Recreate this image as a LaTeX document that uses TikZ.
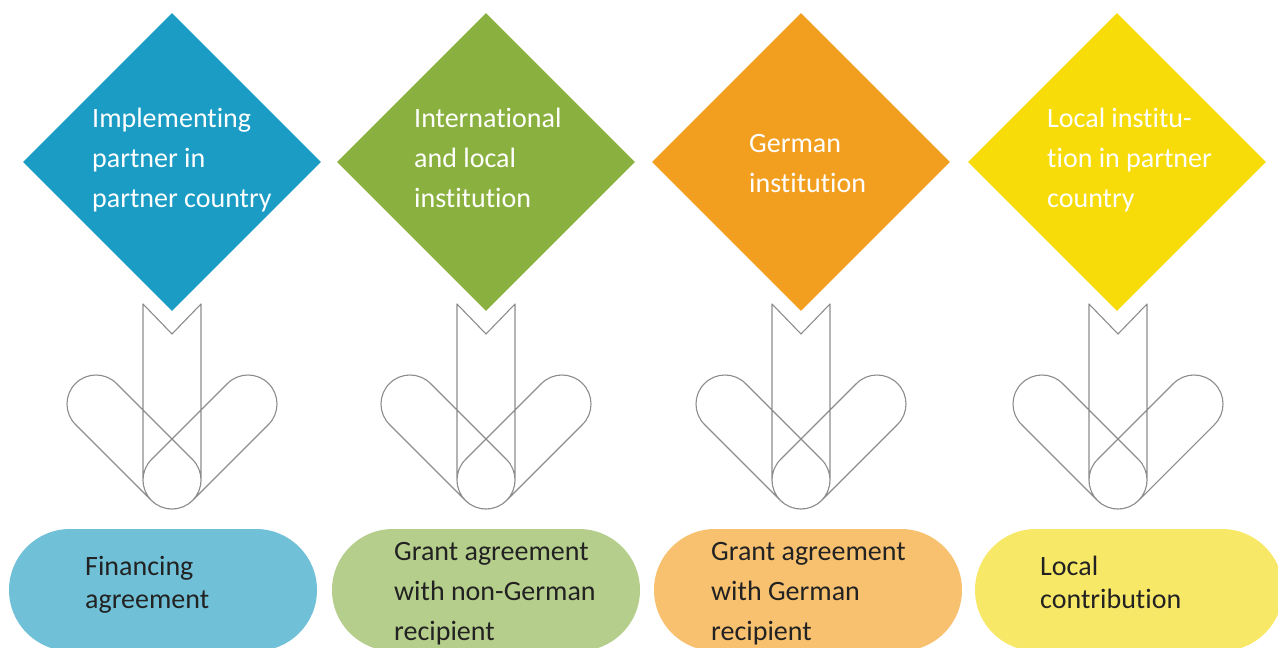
\documentclass[tikz,border=0pt]{standalone}
\usepackage{fontspec}
\usepackage{tikz}
\usepackage{xcolor}
\usetikzlibrary{shapes, positioning}
\setmainfont{Carlito}[Ligatures={NoCommon, NoRequired, NoContextual}]

\definecolor{dblue}{HTML}{1B9CC4}
\definecolor{dgreen}{HTML}{8AB140}
\definecolor{dorange}{HTML}{F29F20}
\definecolor{dyellow}{HTML}{F7DC0A}
\definecolor{pblue}{HTML}{70C0D8}
\definecolor{pgreen}{HTML}{B5CE8B}
\definecolor{porange}{HTML}{F7C170}
\definecolor{pyellow}{HTML}{F8E868}
\definecolor{ink}{HTML}{222222}
\definecolor{glyph}{HTML}{8C8C8C}

\tikzset{
    partner/.style={diamond, minimum size=298pt, inner sep=0pt, fill=#1},
    partnertext/.style={anchor=base west, align=left, inner sep=0pt, text=white,
        font=\fontsize{28}{40}\selectfont},
    contract/.style={rectangle, rounded corners=61pt, minimum width=308pt,
        minimum height=122pt, inner sep=0pt, fill=#1},
    contracttext/.style={anchor=base west, align=left, inner sep=0pt, text=ink,
        font=\fontsize{28}{#1}\selectfont},
    mergearrow/.pic={
        \draw[glyph, line width=1.1pt, line join=round]
            (-29,0) -- (-29,176) -- (0,146) -- (29,176) -- (29,0)
                arc[start angle=0, end angle=-180, radius=29] -- cycle
            (45:29) -- ++(-76,76) arc[start angle=45, end angle=225, radius=29]
                -- ++(76,-76) arc[start angle=225, end angle=405, radius=29] -- cycle
            (135:29) -- ++(76,76) arc[start angle=135, end angle=-45, radius=29]
                -- ++(-76,-76) arc[start angle=-45, end angle=-225, radius=29] -- cycle;
    }
}

\begin{document}
\begin{tikzpicture}[x=1pt, y=1pt]
        \useasboundingbox (0,0) rectangle (1278,-648);
        \clip (0,0) rectangle (1278,-648);

        \node[partner=dblue] (impl) at (172,-162) {};
        \node[partner=dgreen] (intl) at (486,-162) {};
        \node[partner=dorange] (germ) at (801,-162) {};
        \node[partner=dyellow] (local) at (1117,-162) {};

        % anchors sit on the last baseline
        \node[partnertext] (impltext) at (92,-207) {Implementing\\partner in\\partner country};
        \node[partnertext] (intltext) at (414,-207) {International\\and local\\institution};
        \node[partnertext] (germtext) at (749,-192) {German\\institution};
        \node[partnertext] (localtext) at (1047,-207) {Local institu-\\tion in partner\\country};

        \pic at (172,-480) {mergearrow};
        \pic at (486,-480) {mergearrow};
        \pic at (801,-480) {mergearrow};
        \pic at (1118,-480) {mergearrow};

        \node[contract=pblue] (financing) at (163,-590) {};
        \node[contract=pgreen] (grantother) at (486,-590) {};
        \node[contract=porange] (grantgerm) at (808,-590) {};
        \node[contract=pyellow] (contrib) at (1129,-590) {};

        \node[contracttext=33] (financingtext) at (85,-608) {Financing\\agreement};
        \node[contracttext=40] (grantothertext) at (394,-640) {Grant agreement\\with non-German\\recipient};
        \node[contracttext=40] (grantgermtext) at (711,-640) {Grant agreement\\with German\\recipient};
        \node[contracttext=33] (contribtext) at (1040,-608) {Local\\contribution};
    \end{tikzpicture}
\end{document}
